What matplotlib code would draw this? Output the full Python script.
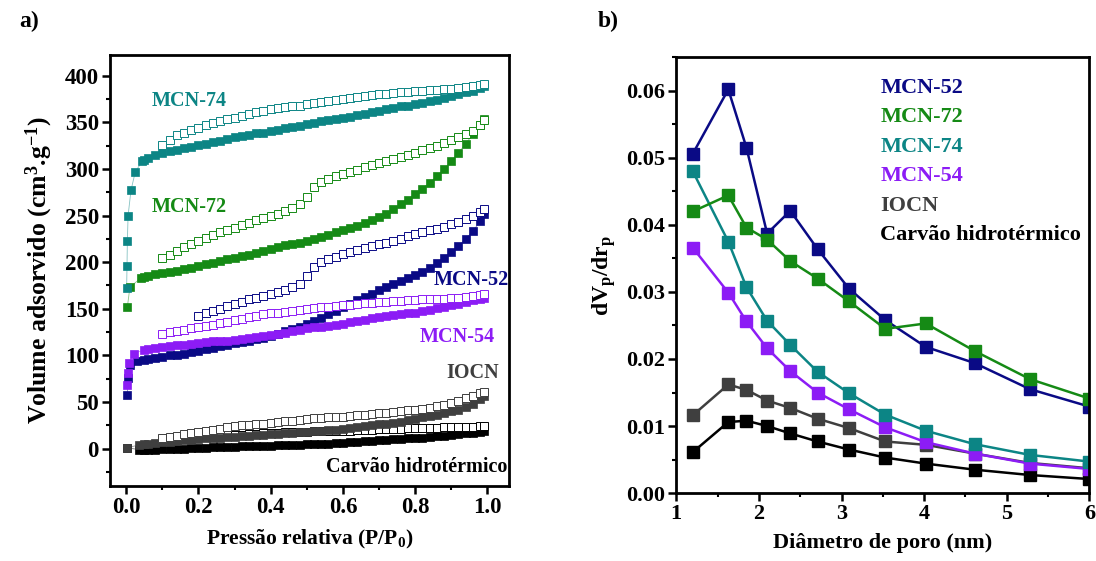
import matplotlib
matplotlib.use("Agg")
import matplotlib.pyplot as plt
from matplotlib.ticker import MultipleLocator, FormatStrFormatter

plt.rcParams['font.family'] = ['Liberation Serif', 'DejaVu Serif']
plt.rcParams['font.weight'] = 'bold'
plt.rcParams['mathtext.fontset'] = 'custom'
plt.rcParams['mathtext.rm'] = 'Liberation Serif:bold'
plt.rcParams['mathtext.bf'] = 'Liberation Serif:bold'
plt.rcParams['mathtext.it'] = 'Liberation Serif:bold'

# ---------------- Panel a) data: N2 isotherms ----------------
P_GRID = [0.10, 0.12, 0.14, 0.16, 0.18, 0.20, 0.22, 0.24, 0.26, 0.28, 0.30, 0.32, 0.34,
          0.36, 0.38, 0.40, 0.42, 0.44, 0.46, 0.48, 0.50, 0.52, 0.54, 0.56, 0.58, 0.60,
          0.62, 0.64, 0.66, 0.68, 0.70, 0.72, 0.74, 0.76, 0.78, 0.80, 0.82, 0.84, 0.86,
          0.88, 0.90, 0.92, 0.94, 0.96, 0.98, 0.99]

# MCN-74
p_ads_74 = [0.001, 0.002, 0.003, 0.005, 0.013, 0.025, 0.044, 0.05, 0.06, 0.08] + P_GRID
v_ads_74 = [172, 196, 223, 250, 277, 297, 308, 310, 312, 315,
            317, 319, 320, 322, 324, 326, 327, 329, 330, 332, 334, 335, 336, 338, 339, 341,
            342, 344, 345, 346, 348, 349, 351, 352, 353, 355, 356, 358, 359, 361, 362, 364,
            365, 367, 368, 370, 371, 373, 374, 376, 378, 380, 382, 384, 387, 389]
p_des_74 = P_GRID
v_des_74 = [326, 331, 336, 339, 342, 344, 347, 349, 351, 353, 355, 357, 359, 361, 362, 364,
            365, 366, 367, 368, 370, 371, 372, 373, 374, 375, 376, 377, 378, 379, 380, 380,
            381, 382, 383, 384, 384, 385, 385, 386, 386, 387, 388, 389, 390, 391]

# MCN-72
p_ads_72 = [0.003, 0.01, 0.04, 0.05, 0.06, 0.08] + P_GRID
v_ads_72 = [152, 173, 183, 184, 185, 187,
            188, 190, 191, 193, 194, 196, 198, 199, 201, 203, 205, 207, 208, 210, 212, 214,
            216, 218, 219, 221, 223, 225, 227, 229, 232, 234, 237, 239, 242, 245, 248, 252,
            257, 262, 267, 273, 279, 285, 292, 300, 308, 317, 327, 337, 347, 353]
p_des_72 = P_GRID
v_des_72 = [204, 208, 212, 216, 220, 223, 226, 229, 232, 235, 237, 240, 242, 245, 247, 250,
            252, 255, 258, 262, 270, 281, 286, 289, 292, 295, 297, 299, 302, 304, 306, 308,
            311, 313, 315, 317, 320, 322, 325, 328, 331, 334, 337, 341, 347, 352]

# MCN-52
p_ads_52 = [0.003, 0.004, 0.01, 0.03, 0.05, 0.06, 0.08] + P_GRID
v_ads_52 = [58, 76, 90, 94, 95, 96, 97,
            98, 100, 101, 102, 104, 105, 107, 108, 110, 111, 113, 114, 116, 118, 119, 121,
            123, 126, 128, 131, 134, 137, 140, 144, 148, 152, 155, 159, 163, 166, 170, 173,
            177, 180, 183, 186, 190, 194, 199, 205, 211, 217, 225, 233, 244, 252]
p_des_52 = P_GRID[5:]
v_des_52 = [142, 145, 148, 150, 153, 155, 157, 160, 162, 164, 166, 168, 170, 173, 177, 185,
            195, 200, 203, 206, 209, 211, 213, 215, 217, 219, 221, 223, 225, 228, 230, 232,
            234, 236, 238, 241, 243, 246, 249, 254, 257]

# MCN-54
p_ads_54 = [0.003, 0.004, 0.008, 0.02, 0.05, 0.06, 0.08] + P_GRID
v_ads_54 = [68, 81, 92, 102, 106, 107, 108,
            109, 110, 111, 111, 112, 113, 114, 115, 115, 116, 117, 118, 119, 120, 121, 122,
            123, 124, 126, 127, 129, 130, 131, 132, 133, 134, 136, 137, 138, 140, 141, 142,
            143, 144, 145, 146, 148, 149, 151, 152, 154, 155, 157, 159, 161, 162]
p_des_54 = P_GRID
v_des_54 = [123, 125, 126, 127, 129, 130, 132, 133, 135, 136, 138, 139, 141, 142, 144, 145,
            146, 147, 148, 149, 150, 151, 152, 152, 153, 154, 154, 155, 156, 156, 157, 157,
            158, 158, 159, 159, 160, 160, 161, 161, 162, 162, 163, 164, 165, 166]

# IOCN
p_ads_io = [0.003, 0.035, 0.05, 0.06, 0.08] + P_GRID
v_ads_io = [1, 4, 5, 5, 6,
            7, 7.5, 8, 9, 9.5, 10, 11, 11, 12, 12.5, 13, 13.5, 14, 14.5, 15, 15.5, 16, 16.5,
            17, 17.5, 18, 18.5, 19, 20, 20.5, 21, 22, 23, 24, 25, 26, 27, 28, 29, 30.5, 32,
            33.5, 35, 36.5, 38, 40, 42, 45, 48, 53, 56]
p_des_io = P_GRID
v_des_io = [12, 13, 14, 15.5, 17, 18, 19, 20.5, 21.5, 23, 24, 25, 25.5, 26.5, 27, 28, 28.5,
            29.5, 30, 31, 32, 32.5, 33, 33.5, 34, 34.5, 35, 36, 36.5, 37, 38, 38.5, 39, 40,
            41, 42, 43, 44, 45.5, 47, 49, 51, 54, 57, 60, 61]

# Carvao hidrotermico
p_ads_hc = [0.003, 0.035, 0.05, 0.06, 0.08] + P_GRID
v_ads_hc = [1, -1, -1, -1, -1,
            -0.5, -0.5, 0, 0, 0.5, 1, 1, 1.5, 1.5, 2, 2, 2.5, 2.5, 3, 3, 3, 3.5, 3.5, 4, 4,
            4.5, 5, 5, 5.5, 6, 6.5, 7, 7.5, 8, 8.5, 9, 9.5, 10, 10.5, 11, 11.5, 12, 12.5,
            13.5, 14, 15, 15.5, 16.5, 17, 18, 19]
p_des_hc = P_GRID
v_des_hc = [10, 10.5, 11, 11.5, 12, 12.5, 13, 13.5, 14, 14.5, 15, 15, 15.5, 16, 16.5, 17, 17,
            17.5, 17.5, 18, 18, 18.5, 18.5, 19, 19, 19.5, 19.5, 20, 20, 20.5, 21, 21, 21.5,
            21.5, 22, 22, 22, 22.5, 22.5, 23, 23, 23, 23.5, 23.5, 24, 24]

# ---------------- Panel b) data: pore size distribution ----------------
d_pore = [1.2, 1.63, 1.85, 2.1, 2.38, 2.71, 3.09, 3.53, 4.02, 4.61, 5.28, 6.0]
psd_52 = [0.0506, 0.0602, 0.0515, 0.0387, 0.0421, 0.0364, 0.0305, 0.0258, 0.0218, 0.0194, 0.0155, 0.0129]
psd_72 = [0.0420, 0.0444, 0.0396, 0.0378, 0.0346, 0.0320, 0.0286, 0.0245, 0.0253, 0.0212, 0.0170, 0.0141]
psd_74 = [0.0480, 0.0375, 0.0307, 0.0257, 0.0221, 0.0181, 0.0149, 0.0117, 0.0093, 0.0073, 0.0057, 0.0047]
psd_54 = [0.0366, 0.0299, 0.0256, 0.0216, 0.0182, 0.0150, 0.0125, 0.0098, 0.0076, 0.0059, 0.0044, 0.0036]
psd_io = [0.0116, 0.0162, 0.0154, 0.0138, 0.0127, 0.0111, 0.0097, 0.0077, 0.0072, 0.0059, 0.0045, 0.0037]
psd_hc = [0.0061, 0.0106, 0.0108, 0.0100, 0.0089, 0.0077, 0.0065, 0.0053, 0.0044, 0.0035, 0.0027, 0.0021]

labels = ['MCN-52', 'MCN-72', 'MCN-74', 'MCN-54', 'IOCN', 'Carvão hidrotérmico']
colors = {'MCN-52': '#0a0a85', 'MCN-72': '#158a15', 'MCN-74': '#0c8585',
          'MCN-54': '#8c1cf5', 'IOCN': '#3f3f3f', 'Carvão hidrotérmico': '#000000'}

fig = plt.figure(figsize=(10.96, 5.61), dpi=100)
axa = fig.add_axes([0.1004, 0.1337, 0.364, 0.768])
axb = fig.add_axes([0.617, 0.121, 0.377, 0.777])

def style(ax, lsize):
    for s in ax.spines.values():
        s.set_linewidth(2.0)
    ax.tick_params(which='major', direction='out', length=5.5, width=1.8, labelsize=lsize,
                   pad=2.5, top=False, right=False)
    ax.tick_params(which='minor', direction='out', length=3, width=1.5,
                   top=False, right=False)
    for t in ax.get_xticklabels() + ax.get_yticklabels():
        t.set_fontweight('bold')

# Panel a
iso = [
    ('Carvão hidrotérmico', p_ads_hc, v_ads_hc, p_des_hc, v_des_hc),
    ('IOCN', p_ads_io, v_ads_io, p_des_io, v_des_io),
    ('MCN-52', p_ads_52, v_ads_52, p_des_52, v_des_52),
    ('MCN-54', p_ads_54, v_ads_54, p_des_54, v_des_54),
    ('MCN-72', p_ads_72, v_ads_72, p_des_72, v_des_72),
    ('MCN-74', p_ads_74, v_ads_74, p_des_74, v_des_74),
]
for name, pa, va, pd_, vd in iso:
    c = colors[name]
    axa.plot(pa, va, '-', color=c, lw=0.6, alpha=0.5, zorder=2)
    axa.plot(pa, va, 's', color=c, ms=5.8, mec=c, mew=0.5, zorder=3)
    axa.plot(pd_, vd, 's', mfc='white', mec=c, ms=5.8, mew=0.7, zorder=3)

axa.set_xlim(-0.045, 1.06)
axa.set_ylim(-40, 422)
axa.xaxis.set_major_locator(MultipleLocator(0.2))
axa.xaxis.set_minor_locator(MultipleLocator(0.1))
axa.yaxis.set_major_locator(MultipleLocator(50))
axa.yaxis.set_minor_locator(MultipleLocator(25))
axa.xaxis.set_major_formatter(FormatStrFormatter('%.1f'))
style(axa, 16.5)
axa.set_xlabel('Pressão relativa (P/P$_0$)', fontsize=15.5, fontweight='bold', labelpad=7)
axa.set_ylabel('Volume adsorvido (cm$^3$.g$^{-1}$)', fontsize=18.5, fontweight='bold', labelpad=7)

kw = dict(fontsize=14.5, fontweight='bold', va='center', transform=axa.transAxes)
axa.text(0.105, 0.893, 'MCN-74', color=colors['MCN-74'], **kw)
axa.text(0.105, 0.648, 'MCN-72', color=colors['MCN-72'], **kw)
axa.text(1.0, 0.478, 'MCN-52', color=colors['MCN-52'], ha='right', **kw)
axa.text(0.965, 0.345, 'MCN-54', color=colors['MCN-54'], ha='right', **kw)
axa.text(0.975, 0.263, 'IOCN', color=colors['IOCN'], ha='right', **kw)
axa.text(0.995, 0.045, 'Carvão hidrotérmico', color='black', ha='right', **kw)
fig.text(0.018, 0.962, 'a)', fontsize=17, fontweight='bold', va='center')

# Panel b
psd = [('IOCN', psd_io), ('Carvão hidrotérmico', psd_hc), ('MCN-54', psd_54),
       ('MCN-74', psd_74), ('MCN-52', psd_52), ('MCN-72', psd_72)]
for name, vals in psd:
    c = colors[name]
    axb.plot(d_pore, vals, '-s', color=c, lw=1.8, ms=8, mec=c, clip_on=True)

axb.set_xlim(1, 6)
axb.set_ylim(0, 0.065)
axb.xaxis.set_major_locator(MultipleLocator(1))
axb.xaxis.set_minor_locator(MultipleLocator(0.5))
axb.yaxis.set_major_locator(MultipleLocator(0.01))
axb.yaxis.set_minor_locator(MultipleLocator(0.005))
axb.yaxis.set_major_formatter(FormatStrFormatter('%.2f'))
style(axb, 16)
axb.set_xlabel('Diâmetro de poro (nm)', fontsize=16, fontweight='bold', labelpad=6)
axb.set_ylabel('dV$_p$/dr$_p$', fontsize=17, fontweight='bold', labelpad=6)

for i, name in enumerate(labels):
    axb.text(0.494, 0.93 - i * 0.0677, name, color=colors[name], fontsize=16,
             fontweight='bold', va='center', transform=axb.transAxes)
fig.text(0.545, 0.962, 'b)', fontsize=17, fontweight='bold', va='center')

fig.savefig('out.png', dpi=100)
